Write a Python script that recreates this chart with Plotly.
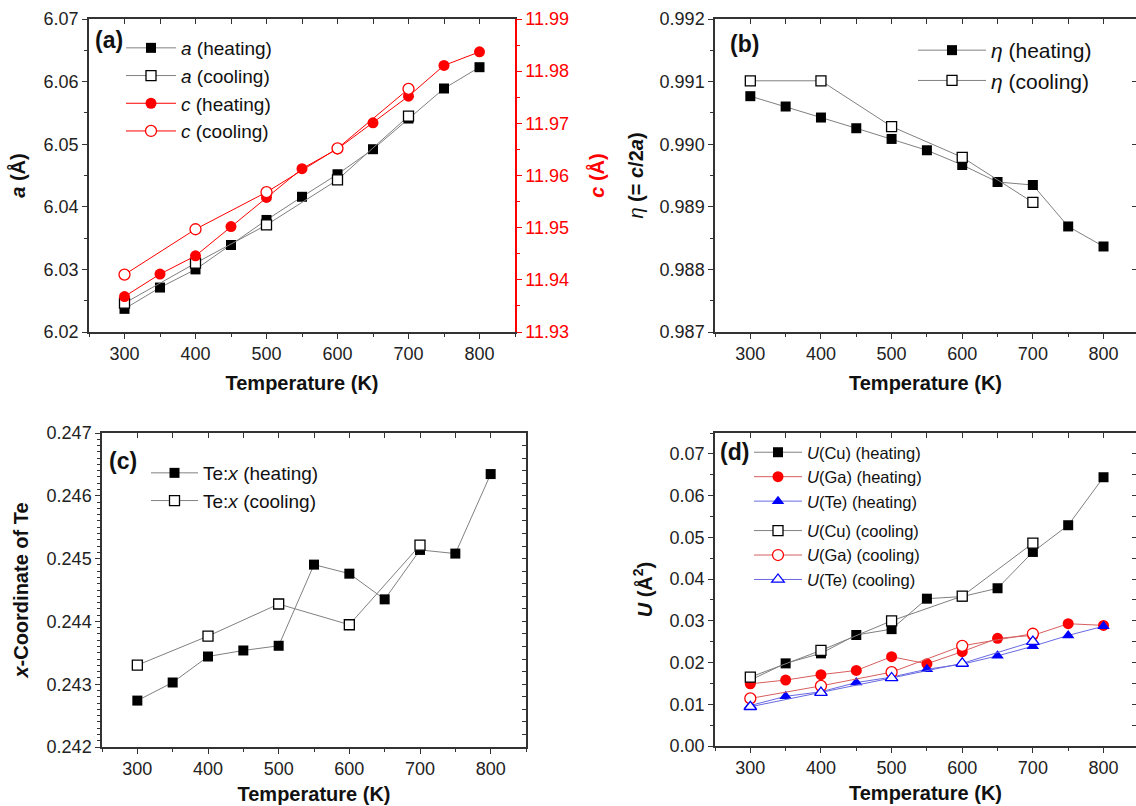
import plotly.graph_objects as go

# ---------------- data ----------------
T_heat = [300, 350, 400, 450, 500, 550, 600, 650, 700, 750, 800]
T_cool = [300, 400, 500, 600, 700]

a_heat = [6.0237, 6.0271, 6.0300, 6.0339, 6.0379, 6.0416, 6.0452, 6.0492, 6.0541, 6.0589, 6.0623]
a_cool = [6.0246, 6.0310, 6.0371, 6.0443, 6.0545]
c_heat = [11.9368, 11.9411, 11.9446, 11.9502, 11.9558, 11.9613, 11.9651, 11.9701, 11.9752, 11.9811, 11.9837]
c_cool = [11.9410, 11.9497, 11.9568, 11.9652, 11.9766]

eta_heat = [0.990767, 0.990602, 0.990426, 0.990255, 0.990084, 0.989903, 0.989668, 0.989396, 0.989348, 0.988686, 0.988366]
eta_cool = [0.991013, 0.991013, 0.990282, 0.989791, 0.989070]

tex_heat = [0.242739, 0.243027, 0.243441, 0.243537, 0.243612, 0.244904, 0.244760, 0.244351, 0.245138, 0.245080, 0.246346]
tex_cool = [0.243303, 0.243766, 0.244277, 0.243947, 0.245213]

U_Cu_heat = [0.0158, 0.0198, 0.0222, 0.0266, 0.0280, 0.0353, 0.0358, 0.0378, 0.0465, 0.0529, 0.0644]
U_Ga_heat = [0.0149, 0.0158, 0.0171, 0.0181, 0.0214, 0.0197, 0.0226, 0.0258, 0.0265, 0.0293, 0.0289]
U_Te_heat = [0.0097, 0.0119, 0.0130, 0.0152, 0.0165, 0.0184, 0.0196, 0.0216, 0.0239, 0.0265, 0.0287]
U_Cu_cool = [0.0165, 0.0229, 0.0300, 0.0359, 0.0486]
U_Ga_cool = [0.0114, 0.0144, 0.0177, 0.0240, 0.0269]
U_Te_cool = [0.0094, 0.0128, 0.0163, 0.0198, 0.0250]

# ---------------- style ----------------
W, H = 1136, 806
FONT = "Liberation Sans, Arial, sans-serif"
AX = "#333333"
GRAY = "#808080"
RED = "#ff0000"
BLUE = "#0000ff"
LRED = "rgb(215,95,95)"
LBLUE = "rgb(105,105,225)"


def px(x):
    return x / W


def py(y):
    return 1 - y / H


fig = go.Figure()


def series(x, y, name, xa, ya, legend, sym, mcolor, lcolor, filled=True, size=10, group=None):
    marker = dict(symbol=sym, size=size)
    if filled:
        marker.update(color=mcolor, line=dict(width=0))
    else:
        marker.update(color="white", line=dict(color=mcolor, width=1.3))
    fig.add_trace(go.Scatter(
        x=x, y=y, name=name, mode="lines+markers", xaxis=xa, yaxis=ya,
        legend=legend, legendgroup=group,
        line=dict(color=lcolor, width=1), marker=marker, hoverinfo="x+y"))


# (a)
series(T_heat, a_heat, "<i>a</i> (heating)", "x", "y", "legend", "square", "black", GRAY)
series(T_cool, a_cool, "<i>a</i> (cooling)", "x", "y", "legend", "square", "black", GRAY, filled=False)
series(T_heat, c_heat, "<i>c</i> (heating)", "x", "y2", "legend", "circle", RED, RED, size=11)
series(T_cool, c_cool, "<i>c</i> (cooling)", "x", "y2", "legend", "circle", RED, RED, filled=False, size=11)
# (b)
series(T_heat, eta_heat, "<i>η</i> (heating)", "x3", "y3", "legend2", "square", "black", GRAY)
series(T_cool, eta_cool, "<i>η</i> (cooling)", "x3", "y3", "legend2", "square", "black", GRAY, filled=False)
# (c)
series(T_heat, tex_heat, "Te:<i>x</i> (heating)", "x4", "y4", "legend3", "square", "black", GRAY)
series(T_cool, tex_cool, "Te:<i>x</i> (cooling)", "x4", "y4", "legend3", "square", "black", GRAY, filled=False)
# (d)
series(T_heat, U_Cu_heat, "<i>U</i>(Cu) (heating)", "x5", "y5", "legend4", "square", "black", GRAY, group="h")
series(T_heat, U_Ga_heat, "<i>U</i>(Ga) (heating)", "x5", "y5", "legend4", "circle", RED, LRED, size=11, group="h")
series(T_heat, U_Te_heat, "<i>U</i>(Te) (heating)", "x5", "y5", "legend4", "triangle-up", BLUE, LBLUE, size=11, group="h")
series(T_cool, U_Cu_cool, "<i>U</i>(Cu) (cooling)", "x5", "y5", "legend4", "square", "black", GRAY, filled=False, group="c")
series(T_cool, U_Ga_cool, "<i>U</i>(Ga) (cooling)", "x5", "y5", "legend4", "circle", RED, LRED, filled=False, size=11, group="c")
series(T_cool, U_Te_cool, "<i>U</i>(Te) (cooling)", "x5", "y5", "legend4", "triangle-up", BLUE, LBLUE, filled=False, size=11, group="c")

# empty helper traces so that mirror (top / right) frame axes get drawn
for xa, ya in [("x6", "y"), ("x7", "y3"), ("x3", "y8"), ("x9", "y4"), ("x4", "y10"), ("x11", "y5"), ("x5", "y12")]:
    fig.add_trace(go.Scatter(x=[], y=[], xaxis=xa, yaxis=ya, showlegend=False, hoverinfo="skip"))

TICKF = dict(family=FONT, size=18, color="#222222")
TITLEF = dict(family=FONT, size=20, color="#111111")


def xaxis(domain, anchor, rng, title, standoff):
    return dict(domain=domain, anchor=anchor, range=rng, tick0=300, dtick=100,
                ticks="outside", ticklen=5, tickwidth=1.3, tickcolor=AX,
                minor=dict(dtick=50, ticks="outside", ticklen=3, tickcolor=AX, tickwidth=1.2),
                showline=True, linecolor=AX, linewidth=1.5, showgrid=False, zeroline=False,
                tickfont=TICKF, title=dict(text=title, font=TITLEF, standoff=standoff))


def yaxis(domain, anchor, rng, dtick, minor, fmt, title, color=AX, side="left", overlaying=None, standoff=8):
    d = dict(domain=domain, anchor=anchor, range=rng, dtick=dtick, tick0=rng[0], tickformat=fmt,
             ticks="outside", ticklen=5, tickwidth=1.3, tickcolor=color,
             minor=dict(dtick=minor, ticks="outside", ticklen=3, tickcolor=color, tickwidth=1.2),
             showline=True, linecolor=color, linewidth=1.5, showgrid=False, zeroline=False,
             side=side, tickfont=dict(TICKF, color=color if color != AX else "#222222"),
             title=dict(text=title, font=dict(TITLEF, color=color if color != AX else "#111111"), standoff=standoff))
    if overlaying:
        d["overlaying"] = overlaying
        d.pop("domain")
    return d


def top_mirror(over, anchor, rng):
    return dict(overlaying=over, anchor=anchor, side="top", range=rng, tick0=300, dtick=50,
                ticks="inside", ticklen=5, tickwidth=1.2, tickcolor=AX, showticklabels=False,
                showline=True, linecolor=AX, linewidth=1.5, showgrid=False, zeroline=False)


def right_mirror(over, anchor, rng, dtick):
    return dict(overlaying=over, anchor=anchor, side="right", range=rng, tick0=rng[0], dtick=dtick,
                ticks="inside", ticklen=4, tickwidth=1.2, tickcolor=AX, showticklabels=False,
                showline=True, linecolor=AX, linewidth=1.5, showgrid=False, zeroline=False)


XR = [250, 850]
XR_R = [250, 846]
dom_a_x = [px(89), px(515)]
dom_b_x = [px(715), 1.0]
dom_c_x = [px(102), px(526)]
dom_d_x = [px(715), 1.0]
dom_top_y = [py(332), py(19)]
dom_c_y = [py(747), py(433)]
dom_d_y = [py(746), py(433)]

TEMP = "<b>Temperature (K)</b>"

fig.update_layout(
    width=W, height=H, margin=dict(l=0, r=0, t=0, b=0, pad=0, autoexpand=False),
    paper_bgcolor="white", plot_bgcolor="white",
    font=dict(family=FONT, color="#111111"),
    xaxis=xaxis(dom_a_x, "y", XR, TEMP, 13),
    yaxis=yaxis(dom_top_y, "x", [6.02, 6.07], 0.01, 0.005, ".2f", "<b><i>a</i> (Å)</b>", standoff=13),
    yaxis2=yaxis(None, "x", [11.93, 11.99], 0.01, 0.005, ".2f", "<b><i>c</i> (Å)</b>", color=RED,
                 side="right", overlaying="y", standoff=22),
    xaxis3=xaxis(dom_b_x, "y3", XR_R, TEMP, 13),
    yaxis3=yaxis(dom_top_y, "x3", [0.987, 0.992], 0.001, 0.0005, ".3f",
                 "<i>η</i> <b>(= <i>c</i>/2<i>a</i>)</b>", standoff=11),
    xaxis4=xaxis(dom_c_x, "y4", XR, TEMP, 9),
    yaxis4=yaxis(dom_c_y, "x4", [0.242, 0.247], 0.001, 0.0001, ".3f", "<b><i>x</i>-Coordinate of Te</b>", standoff=13),
    xaxis5=xaxis(dom_d_x, "y5", XR_R, TEMP, 9),
    yaxis5=yaxis(dom_d_y, "x5", [0.0, 0.075], 0.01, 0.005, ".2f", "<b><i>U</i> (Å<sup>2</sup>)</b>", standoff=12),
    xaxis6=top_mirror("x", "y", XR),
    xaxis7=top_mirror("x3", "y3", XR_R),
    yaxis8=right_mirror("y3", "x3", [0.987, 0.992], 0.001),
    xaxis9=top_mirror("x4", "y4", XR),
    yaxis10=right_mirror("y4", "x4", [0.242, 0.247], 0.0002),
    xaxis11=top_mirror("x5", "y5", XR_R),
    yaxis12=right_mirror("y5", "x5", [0.0, 0.075], 0.005),
    legend=dict(x=px(121), y=py(29), xanchor="left", yanchor="top", bgcolor="rgba(0,0,0,0)",
                font=dict(family=FONT, size=19, color="#111111"), itemwidth=50, tracegroupgap=0),
    legend2=dict(x=px(913), y=py(30), xanchor="left", yanchor="top", bgcolor="rgba(0,0,0,0)",
                 font=dict(family=FONT, size=21, color="#111111"), itemwidth=68),
    legend3=dict(x=px(146), y=py(454), xanchor="left", yanchor="top", bgcolor="rgba(0,0,0,0)",
                 font=dict(family=FONT, size=19, color="#111111"), itemwidth=47),
    legend4=dict(x=px(749), y=py(435), xanchor="left", yanchor="top", bgcolor="rgba(0,0,0,0)",
                 font=dict(family=FONT, size=16.5, color="#111111"), itemwidth=48,
                 traceorder="grouped", tracegroupgap=5),
    showlegend=True,
)

labels = [("(a)", 109, 40), ("(b)", 744, 44), ("(c)", 123, 461), ("(d)", 734, 452)]
for txt, x, y in labels:
    fig.add_annotation(text=f"<b>{txt}</b>", x=px(x), y=py(y), xref="paper", yref="paper",
                       showarrow=False, xanchor="center", yanchor="middle",
                       font=dict(family=FONT, size=23, color="#111111"))

fig.write_html("out.html", config={"displayModeBar": False},
               post_script="document.body.style.margin='0px';document.body.style.overflow='hidden';")
